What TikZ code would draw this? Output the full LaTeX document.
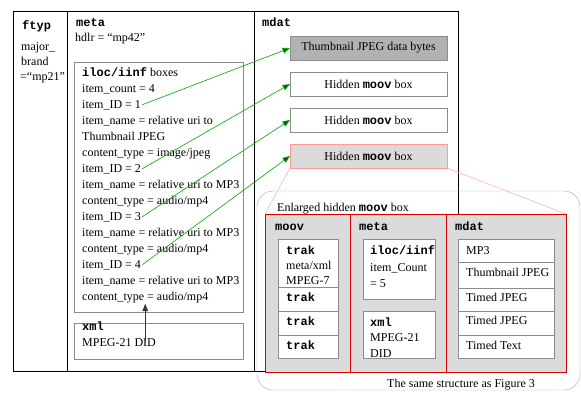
\documentclass[tikz,border=0pt]{standalone}
\usepackage{fontspec}
\setmainfont{Liberation Serif}
\setmonofont{Liberation Mono}
\usetikzlibrary{arrows.meta,positioning}
\newcommand{\kw}[1]{\texttt{\bfseries #1}}
\tikzset{
  col/.style={draw, line width=1pt, rectangle, anchor=north west, inner sep=0pt, outer sep=0pt},
  gbox/.style={draw=black!45, line width=0.8pt, rectangle, anchor=north west, inner sep=0pt, outer sep=0pt, fill=white, font=\fontsize{12}{14}\selectfont},
  rbox/.style={draw=red!85!black, line width=1pt, rectangle, anchor=north west, inner sep=0pt, outer sep=0pt, fill=black!14},
  txt/.style={font=\fontsize{12}{14}\selectfont, anchor=base west, inner sep=1pt},
  garr/.style={draw=green!65!black, -{Triangle[length=2.6mm, width=2mm, fill=green!40!black]}, semithick},
  barr/.style={-{Triangle[length=2.6mm, width=2mm]}, semithick, black!80},
  zline/.style={draw=red!40, thin},
}
\begin{document}
\begin{tikzpicture}[x=1pt, y=-1pt]
\useasboundingbox (0,0) rectangle (581,392);
% outer boxes
\node[col, minimum width=54, minimum height=360] (ftyp) at (13,11) {};
\node[col, minimum width=187, minimum height=360] (meta) at (67,11) {};
\node[col, minimum width=204, minimum height=360] (mdat) at (254,11) {};
\node[txt] (ftypl) at (21,29) {\kw{ftyp}};
\node[txt] (fb1) at (20,50) {major\_};
\node[txt] (fb2) at (20,65) {brand};
\node[txt] (fb3) at (19,80) {=``mp21''};
\node[txt] (metal) at (75,26) {\kw{meta}};
\node[txt] (hdlr) at (74,41) {hdlr = ``mp42''};
\node[txt] (mdatl) at (261,26) {\kw{mdat}};

\node[gbox, minimum width=169, minimum height=250] (iloc) at (74,62) {};
\node[gbox, minimum width=169, minimum height=36] (xml) at (74,323) {};
\foreach \t [count=\i] in {{\kw{iloc/iinf} boxes}, item\_count = 4, item\_ID = 1,
    item\_name = relative uri to, Thumbnail JPEG, content\_type = image/jpeg,
    item\_ID = 2, item\_name = relative uri to MP3, content\_type = audio/mp4,
    item\_ID = 3, item\_name = relative uri to MP3, content\_type = audio/mp4,
    item\_ID = 4, item\_name = relative uri to MP3, content\_type = audio/mp4}
  \node[txt] (l\i) at (81,60+16*\i) {\t};
\node[txt] (xmll) at (81,330) {\kw{xml}};
\node[txt] (did) at (81,346) {MPEG-21 DID};

\node[gbox, fill=black!30, minimum width=157, minimum height=24] (thumb) at (290,36) {Thumbnail JPEG data bytes};
\node[gbox, minimum width=157, minimum height=24] (hid1) at (290,72) {Hidden \kw{moov} box};
\node[gbox, minimum width=157, minimum height=24] (hid2) at (290,108) {Hidden \kw{moov} box};
\node[gbox, draw=red!40, fill=black!14, minimum width=157, minimum height=24] (hid3) at (290,144) {Hidden \kw{moov} box};

\draw[garr] (l3.east) -- (thumb.west);
\draw[garr] (l7.east) -- (hid1.west);
\draw[garr] (l10.east) -- (hid2.west);
\draw[garr] (l13.east) -- (hid3.west);
\coordinate (xmlsrc) at (l15.south |- did.center);
\draw[barr] (xmlsrc) -- (l15.south);

% enlarged hidden moov box
\node[draw=black!35, rounded corners=16pt, rectangle, anchor=north west, inner sep=0pt, outer sep=0pt, minimum width=323, minimum height=199] (zoom) at (257,191) {};
\node[txt] (zoomt) at (276,211) {Enlarged hidden \kw{moov} box};
\node[rbox, minimum width=85, minimum height=158] (mcol) at (265,214) {};
\node[rbox, minimum width=96, minimum height=158] (tcol) at (350,214) {};
\node[rbox, minimum width=120, minimum height=158] (dcol) at (446,214) {};
\draw[zline] (hid3.south west) -- (mcol.north west);
\draw[zline] (hid3.south east) -- (dcol.north east);
\node[txt] (moovl) at (274,230) {\kw{moov}};
\node[txt] (metal2) at (358,230) {\kw{meta}};
\node[txt] (mdatl2) at (454,230) {\kw{mdat}};

\node[gbox, minimum width=60, minimum height=48] (t1) at (278,239) {};
\node[gbox, minimum width=60, minimum height=24] (t2) at (278,287) {};
\node[gbox, minimum width=60, minimum height=24] (t3) at (278,311) {};
\node[gbox, minimum width=60, minimum height=23] (t4) at (278,335) {};
\node[txt] (tk1) at (285,254) {\kw{trak}};
\node[txt] (mx) at (285,269) {meta/xml};
\node[txt] (m7) at (285,284) {MPEG-7};
\node[txt] (tk2) at (285,301) {\kw{trak}};
\node[txt] (tk3) at (285,325) {\kw{trak}};
\node[txt] (tk4) at (285,349) {\kw{trak}};

\node[gbox, minimum width=72, minimum height=60] (il) at (363,239) {};
\node[gbox, minimum width=72, minimum height=47] (xm) at (363,311) {};
\node[txt] (il1) at (369,254) {\kw{iloc/iinf}};
\node[txt] (il2) at (369,271) {item\_Count};
\node[txt] (il3) at (369,287) {= 5};
\node[txt] (xm1) at (369,326) {\kw{xml}};
\node[txt] (xm2) at (369,341) {MPEG-21};
\node[txt] (xm3) at (369,357) {DID};

\foreach \y/\h [count=\i] in {239/23, 262/26, 288/23, 311/24, 335/23}
  \node[gbox, minimum width=96, minimum height=\h] (d\i) at (458,\y) {};
\foreach \t/\y [count=\i] in {MP3/254, Thumbnail JPEG/276, Timed JPEG/301, Timed JPEG/324, Timed Text/349}
  \node[txt] (dt\i) at (465,\y) {\t};

\node[txt] (same) at (386,387) {The same structure as Figure 3};
\end{tikzpicture}
\end{document}
